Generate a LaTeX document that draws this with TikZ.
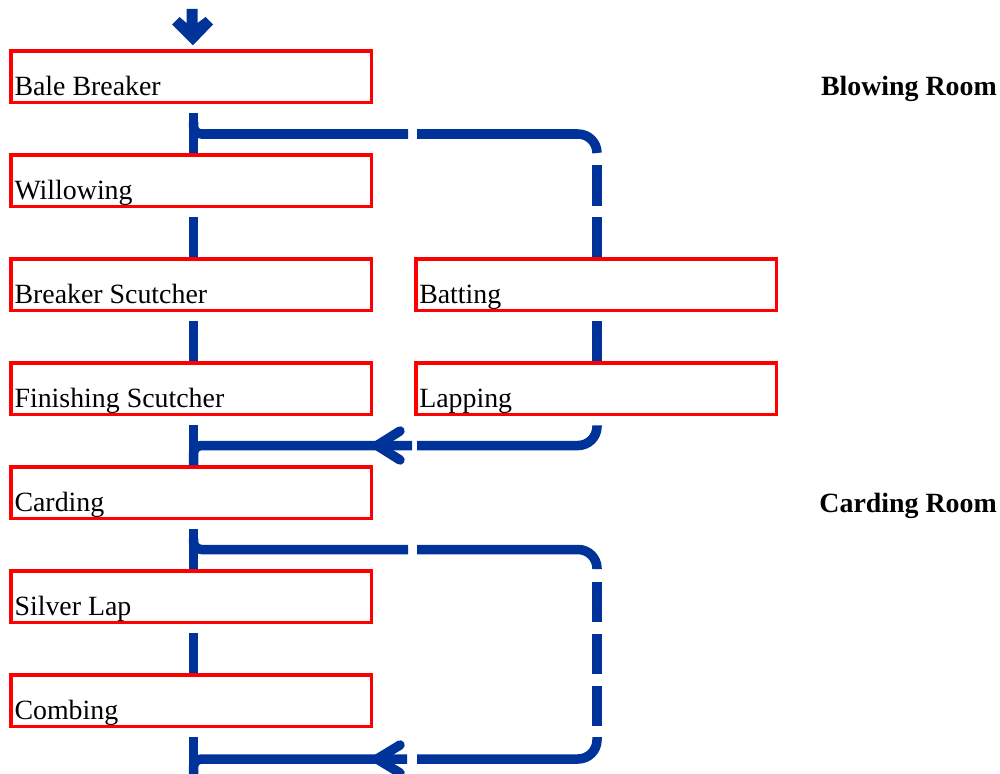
\documentclass[tikz,border=0pt]{standalone}
\usepackage{fontspec}
\setmainfont{Liberation Serif}
\usetikzlibrary{calc}
\definecolor{flowblue}{RGB}{0,51,153}
\definecolor{boxred}{RGB}{255,0,0}
\begin{document}
\begin{tikzpicture}[x=0.75pt,y=-0.75pt,
  stage/.style={draw=boxred, line width=2.625pt, minimum width=270.375pt, minimum height=38.625pt, inner sep=0pt},
  lbl/.style={anchor=base west, inner sep=0pt, font=\fontsize{20.9pt}{25pt}\selectfont},
  room/.style={anchor=base east, inner sep=0pt, font=\fontsize{20.9pt}{25pt}\selectfont\bfseries},
  flow/.style={draw=flowblue, line width=7.125pt},
  loopline/.style={flow, rounded corners=14.25pt},
  joint/.style={flow, rounded corners=6pt},
  head/.style={flow, line join=round, line cap=round}
]
\useasboundingbox (0,0) rectangle (1000,774);

% stages
\node[stage] (bb)   at (191.25,76.75)  {};
\node[stage] (wil)  at (191.25,180.75) {};
\node[stage] (bs)   at (191.25,284.75) {};
\node[stage] (fs)   at (191.25,388.75) {};
\node[stage] (card) at (191.25,492.75) {};
\node[stage] (sl)   at (191.25,596.75) {};
\node[stage] (comb) at (191.25,700.75) {};
\node[stage] (bat)  at (596,284.75) {};
\node[stage] (lap)  at (596,388.75) {};

\foreach \n/\t in {bb/Bale Breaker, wil/Willowing, bs/Breaker Scutcher, fs/Finishing Scutcher, card/Carding, sl/Silver Lap, comb/Combing, bat/Batting, lap/Lapping}
  \node[lbl] at ($(\n.south west)+(5,-8.5)$) {\t};

\node[room] (blow) at (997,96) {Blowing Room};
\node[room] (cardroom) at (997,512) {Carding Room};

% entry arrow (fat down arrow)
\coordinate (in) at (192,9);
\fill[flowblue] (186.5,9) -- (197.5,9) -- (197.5,23) -- (205.5,17) -- (213,24.5)
  -- ($(bb.north)+(1.75,-4)$) -- (172,24.5) -- (179.5,17) -- (186.5,23) -- cycle;

% main line
\foreach \a/\b in {bb/wil, wil/bs, bs/fs, fs/card, card/sl, sl/comb}
  \draw[flow] ($(\a.south)+(2.25,9)$) -- ($(\b.north)+(2.25,0)$);
\coordinate (out) at (193.5,774);
\draw[flow] ($(comb.south)+(2.25,9)$) -- (out);

% loop 1: batting / lapping
\coordinate (g1a) at (408,134);
\coordinate (g1b) at (417,134);
\draw[joint] ($(bb.south)+(2.25,18)$) |- (g1a);
\draw[loopline] (g1b) -| (597,153);
\draw[flow] (597,165) -- (597,206);
\draw[flow] (597,217) -- ($(bat.north)+(1,0)$);
\draw[flow] ($(bat.south)+(1,9)$) -- ($(lap.north)+(1,0)$);
\coordinate (r1a) at (417,445.5);
\coordinate (r1b) at (412,445.5);
\draw[loopline] ($(lap.south)+(1,9)$) |- (r1a);
\draw[joint] (r1b) -| ($(card.north)+(2.25,0)$);
\draw[head] (400,431) -- (377,445.5) -- (400,460);

% loop 2: combing bypass
\coordinate (g2a) at (408,549.5);
\coordinate (g2b) at (417,549.5);
\draw[joint] ($(card.south)+(2.25,18)$) |- (g2a);
\draw[loopline] (g2b) -| (597,569);
\draw[flow] (597,582) -- (597,622);
\draw[flow] (597,634) -- (597,674);
\draw[flow] (597,686) -- (597,726);
\coordinate (r2a) at (417,759);
\coordinate (r2b) at (407,759);
\draw[loopline] (597,737) |- (r2a);
\draw[joint] (r2b) -| (out);
\draw[head] (400,745) -- (377,759) -- (400,773);
\end{tikzpicture}
\end{document}
